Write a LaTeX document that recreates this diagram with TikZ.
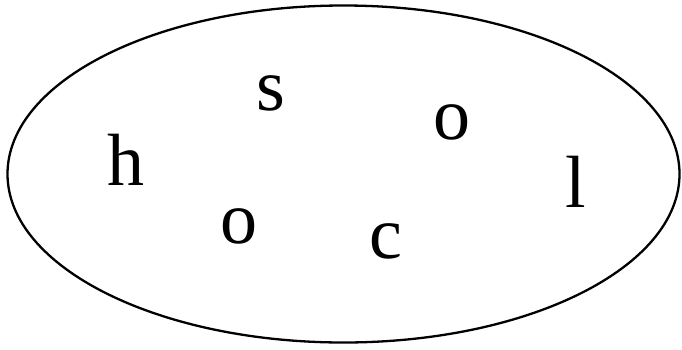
\documentclass[tikz,border=0pt]{standalone}
\usepackage{fontspec}
\setmainfont{Liberation Serif}
\usetikzlibrary{positioning}

\begin{document}
\begin{tikzpicture}[x=1pt,y=-1pt,
  letter/.style={anchor=base,inner sep=0pt,font=\fontsize{74}{80}\selectfont}]
\useasboundingbox (0,0) rectangle (682,349);
\draw[line width=2.3pt] (343.5,174) ellipse [x radius=336,y radius=168.5];
\node[letter] (h)  at (126,185) {h};
\node[letter] (s)  at (271,110) {s};
\node[letter] (o1) at (452,139) {o};
\node[letter] (o2) at (239,243) {o};
\node[letter] (c)  at (386,258) {c};
\node[letter] (l)  at (576,207) {l};
\end{tikzpicture}
\end{document}
